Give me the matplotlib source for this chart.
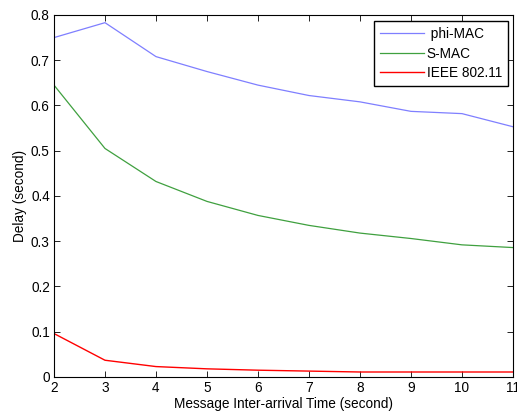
import matplotlib
matplotlib.use("Agg")
import matplotlib.pyplot as plt

plt.rcParams["font.family"] = ["Liberation Sans", "DejaVu Sans"]
plt.rcParams["font.size"] = 9.8

# data
interval = [2, 3, 4, 5, 6, 7, 8, 9, 10, 11]
phi_mac = [0.750, 0.783, 0.708, 0.675, 0.645, 0.622, 0.608, 0.587, 0.582, 0.553]
s_mac = [0.645, 0.505, 0.432, 0.388, 0.357, 0.335, 0.318, 0.306, 0.292, 0.286]
ieee = [0.096, 0.037, 0.023, 0.018, 0.015, 0.013, 0.011, 0.011, 0.011, 0.011]

fig = plt.figure(figsize=(5.17, 4.16), dpi=100)
ax = fig.add_axes([0.1044, 0.0938, 0.8878, 0.8702])

ax.plot(interval, phi_mac, color="#7f7fff", lw=0.9, label=" phi-MAC")
ax.plot(interval, s_mac, color="#3fa03f", lw=0.9, label="S-MAC")
ax.plot(interval, ieee, color="#ff0000", lw=1.0, label="IEEE 802.11")

ax.set_xlim(2, 11)
ax.set_ylim(0, 0.8)
ax.set_xticks(interval)
ax.set_yticks([0, 0.1, 0.2, 0.3, 0.4, 0.5, 0.6, 0.7, 0.8])
ax.set_yticklabels(["0", "0.1", "0.2", "0.3", "0.4", "0.5", "0.6", "0.7", "0.8"])
ax.tick_params(direction="in", top=True, right=True, length=4, width=0.6, pad=3)
for s in ax.spines.values():
    s.set_linewidth(0.8)

ax.set_xlabel("Message Inter-arrival Time (second)", labelpad=1)
ax.set_ylabel("Delay (second)", labelpad=3)

leg = ax.legend(loc="upper right", fancybox=False, edgecolor="black",
                framealpha=1, handlelength=3.2, borderpad=0.45,
                labelspacing=0.4, handletextpad=0.2, borderaxespad=0,
                bbox_to_anchor=(0.989, 0.983))
leg.get_frame().set_linewidth(1.0)

fig.savefig("out.png", dpi=100)
